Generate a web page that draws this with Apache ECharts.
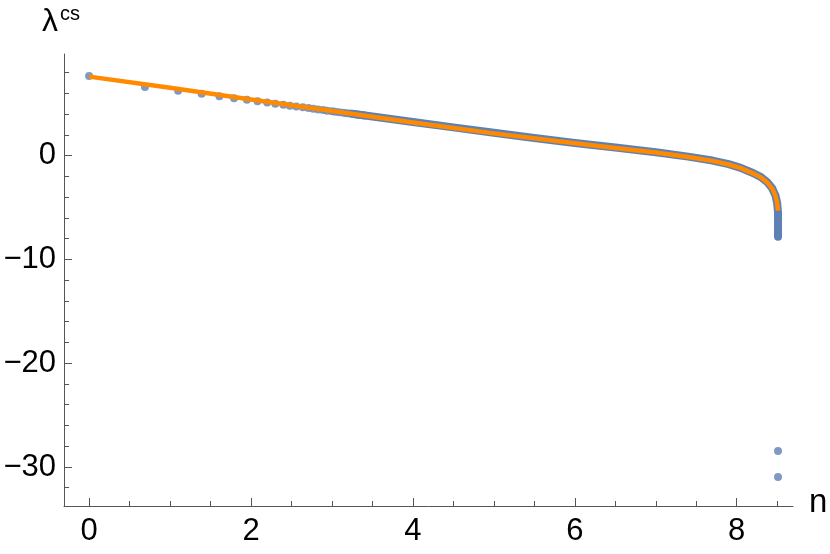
<!DOCTYPE html>
<html>
<head>
<meta charset="utf-8">
<script src="https://cdn.jsdelivr.net/npm/echarts@6/dist/echarts.min.js"></script>
<style>html,body{margin:0;padding:0;background:#fff}#c{width:830px;height:554px}</style>
</head>
<body>
<div id="c"></div>
<script>
// discrete blue points (left part)
const dotX = [0, 0.69, 1.10, 1.39, 1.61, 1.79, 1.95, 2.08, 2.20, 2.30, 2.40, 2.48, 2.56, 2.64, 2.71, 2.77, 2.83, 2.89, 2.94, 3.00, 3.04, 3.09, 3.14, 3.18, 3.22, 3.26, 3.30, 3.33, 3.37, 3.40];
const dotY = [7.67, 6.63, 6.25, 5.96, 5.74, 5.54, 5.38, 5.25, 5.12, 5.01, 4.91, 4.82, 4.74, 4.66, 4.59, 4.52, 4.46, 4.40, 4.34, 4.28, 4.24, 4.19, 4.14, 4.10, 4.06, 4.02, 3.98, 3.95, 3.91, 3.88];
// dense blue points forming a band
const bandX = [3.25, 3.5, 4.0, 4.5, 5.0, 5.5, 6.0, 6.5, 7.0, 7.4, 7.7, 7.9, 8.05, 8.2, 8.3, 8.38, 8.44, 8.48, 8.50, 8.51, 8.51];
const bandY = [4.05, 3.78, 3.25, 2.73, 2.21, 1.70, 1.23, 0.78, 0.33, -0.09, -0.47, -0.82, -1.17, -1.67, -2.07, -2.57, -3.17, -3.87, -4.60, -5.50, -7.80];
// outlying blue points
const outX = [8.51, 8.51];
const outY = [-28.47, -30.97];
// orange fit curve
const fitX = [0, 1, 2, 3, 4, 5, 6, 6.5, 7, 7.4, 7.7, 7.9, 8.05, 8.2, 8.3, 8.38, 8.44, 8.48, 8.50, 8.51];
const fitY = [7.62, 6.55, 5.42, 4.30, 3.20, 2.15, 1.20, 0.75, 0.30, -0.12, -0.50, -0.85, -1.20, -1.70, -2.10, -2.60, -3.20, -3.90, -4.60, -5.30];
// ticks
const xMajor = [0, 2, 4, 6, 8];
const xMinor = [0.5, 1, 1.5, 2.5, 3, 3.5, 4.5, 5, 5.5, 6.5, 7, 7.5, 8.5];
const yMajor = [0, -10, -20, -30];
const yMinor = [8, 6, 4, 2, -2, -4, -6, -8, -12, -14, -16, -18, -22, -24, -26, -28, -32];

const zip = (a, b) => a.map((v, i) => [v, b[i]]);
const BLUE = '#5E81B5', ORANGE = '#FF8A00';
const AXC = '#555555';
const FONT = '"Liberation Sans", Arial, sans-serif';
const fmt = v => String(v).replace('-', '\u2212');
const X0 = -0.31, X1 = 8.695, Y0 = -33.76, Y1 = 9.8;

const chart = echarts.init(document.getElementById('c'), null, {renderer: 'canvas'});
chart.setOption({
  animation: false,
  backgroundColor: '#fff',
  grid: {left: 64, right: 37, top: 54, bottom: 48, containLabel: false},
  xAxis: [
    {type: 'value', min: X0, max: X1, position: 'bottom',
     axisLine: {show: true, onZero: false, lineStyle: {color: AXC, width: 1}},
     axisTick: {show: true, inside: true, length: 8, customValues: xMajor, lineStyle: {color: AXC}},
     axisLabel: {customValues: xMajor, formatter: fmt, color: '#000', fontSize: 31, fontFamily: FONT, margin: 10},
     splitLine: {show: false}},
    {type: 'value', min: X0, max: X1, position: 'bottom',
     axisLine: {show: false, onZero: false},
     axisTick: {show: true, inside: true, length: 5, customValues: xMinor, lineStyle: {color: AXC}},
     axisLabel: {show: false}, splitLine: {show: false}}
  ],
  yAxis: [
    {type: 'value', min: Y0, max: Y1, position: 'left',
     axisLine: {show: true, onZero: false, lineStyle: {color: AXC, width: 1}},
     axisTick: {show: true, inside: true, length: 8, customValues: yMajor, lineStyle: {color: AXC}},
     axisLabel: {customValues: yMajor, formatter: fmt, color: '#000', fontSize: 31, fontFamily: FONT, margin: 8},
     splitLine: {show: false}},
    {type: 'value', min: Y0, max: Y1, position: 'left',
     axisLine: {show: false, onZero: false},
     axisTick: {show: true, inside: true, length: 5, customValues: yMinor, lineStyle: {color: AXC}},
     axisLabel: {show: false}, splitLine: {show: false}}
  ],
  series: [
    {type: 'line', data: zip(bandX, bandY), showSymbol: false, symbol: 'none',
     lineStyle: {color: BLUE, width: 8, cap: 'round', join: 'round'}, z: 2},
    {type: 'scatter', data: zip(dotX, dotY), symbolSize: 8, itemStyle: {color: BLUE}, z: 3},
    {type: 'scatter', data: zip(outX, outY), symbolSize: 8, itemStyle: {color: BLUE}, z: 3},
    {type: 'line', data: zip(fitX, fitY), showSymbol: false, symbol: 'none',
     lineStyle: {color: ORANGE, width: 4.5, join: 'round'}, z: 4}
  ],
  graphic: [
    {type: 'text', left: 42, top: 4,
     style: {text: '{a|λ}{b|cs}', rich: {
       a: {fontSize: 32, fontFamily: FONT, fill: '#000', verticalAlign: 'bottom', lineHeight: 34, padding: [0, 2, 0, 0]},
       b: {fontSize: 20, fontFamily: FONT, fill: '#000', verticalAlign: 'top', lineHeight: 34}
     }}},
    {type: 'text', left: 809, top: 486,
     style: {text: 'n', fontSize: 33, fontFamily: FONT, fill: '#000'}}
  ]
});
</script>
</body>
</html>
